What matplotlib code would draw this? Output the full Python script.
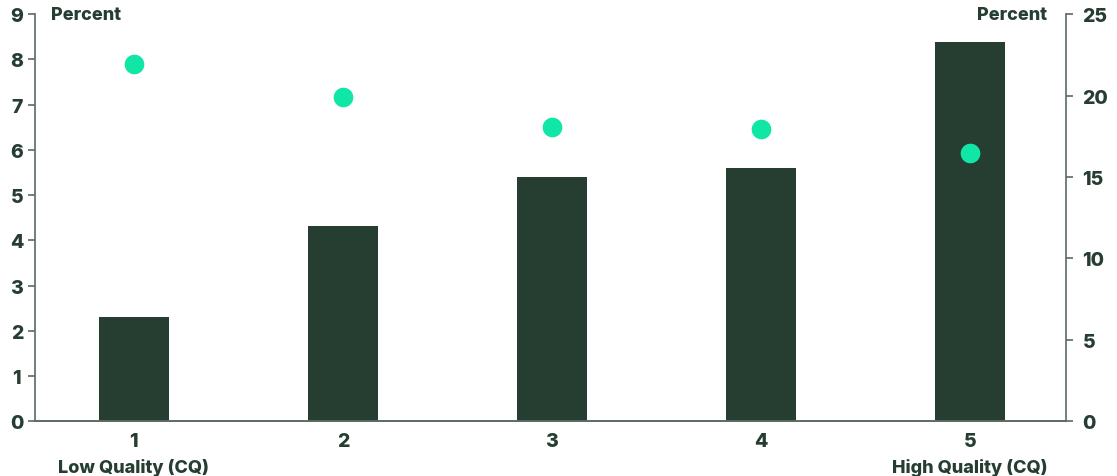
import numpy as np
import matplotlib.pyplot as plt
import matplotlib.transforms as mtransforms

# data
quintiles = [1, 2, 3, 4, 5]
bar_values = [2.30, 4.31, 5.39, 5.61, 8.39]      # left axis, percent
dot_values = [21.95, 19.9, 18.1, 17.95, 16.45]   # right axis, percent
end_labels = {1: 'Low Quality (CQ)', 5: 'High Quality (CQ)'}

dark = '#263d32'
mint = '#10e6a6'
spine_col = '#5a6b63'

plt.rcParams['font.family'] = ['Inter', 'DejaVu Sans']
plt.rcParams['font.weight'] = 'heavy'

fig = plt.figure(figsize=(11.17, 4.77), dpi=100)
ax = fig.add_axes([0.0313, 0.115, 0.923, 0.853])
ax2 = ax.twinx()

ax.bar(quintiles, bar_values, width=0.335, color=dark, zorder=2)
ax2.scatter(quintiles, dot_values, s=200, color=mint, zorder=3, linewidths=0)

ax.set_xlim(0.527, 5.459)
ax.set_ylim(0, 9)
ax2.set_ylim(0, 25)
ax.set_yticks(range(0, 10))
ax2.set_yticks(range(0, 26, 5))
ax.set_xticks(quintiles)
ax.set_xticklabels([str(q) for q in quintiles])

for a in (ax, ax2):
    a.spines['top'].set_visible(False)
    for s in ('left', 'right', 'bottom'):
        a.spines[s].set_color(spine_col)
        a.spines[s].set_linewidth(1.2)
    a.tick_params(axis='y', colors=spine_col, labelcolor=dark, labelsize=14,
                  length=5, width=1.2, pad=7)
ax.tick_params(axis='x', length=0, labelsize=14, labelcolor=dark, pad=8)
ax2.spines['left'].set_visible(False)
ax.spines['right'].set_visible(False)
for lbl in ax.get_yticklabels():
    lbl.set_horizontalalignment('center')
ax.tick_params(axis='y', pad=8)

ax.text(0.016, 1.0, 'Percent', transform=ax.transAxes, ha='left', va='center',
        fontsize=13, color=dark)
ax.text(0.982, 1.0, 'Percent', transform=ax.transAxes, ha='right', va='center',
        fontsize=13, color=dark)

trans = mtransforms.blended_transform_factory(ax.transData, ax.transAxes)
for q, txt in end_labels.items():
    ax.text(q, -0.112, txt, transform=trans, ha='center', va='center',
            fontsize=13, color=dark)

fig.savefig('out.png', dpi=100)
